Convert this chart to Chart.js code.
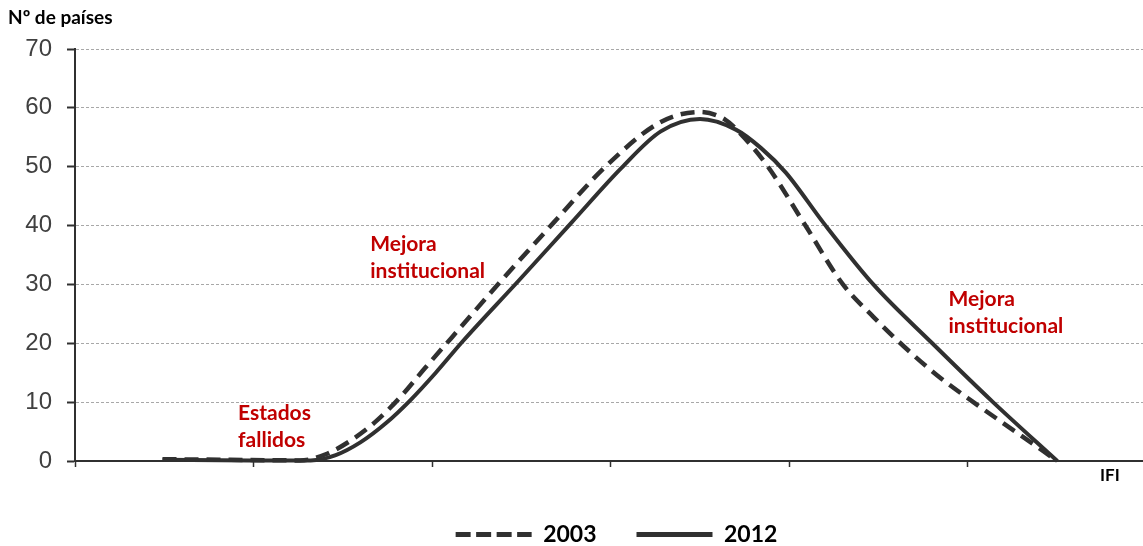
<!DOCTYPE html>
<html lang="es">
<head>
  <meta charset="UTF-8" />
  <title>Nº de países según IFI</title>
  <script src="https://cdn.jsdelivr.net/npm/chart.js"></script>
  <style>
    html, body {
      margin: 0;
      padding: 0;
      background: #fff;
    }
    #wrap {
      width: 1143px;
      height: 546px;
    }
  </style>
</head>
<body>
  <div id="wrap"><canvas id="chart" width="1143" height="546"></canvas></div>

  <script>
    // Valores (eje IFI sin escala: una unidad = un intervalo entre marcas)
    const ifi2003 = [0.49, 0.87, 1.26, 1.40, 1.54, 1.68, 1.82, 1.96, 2.11, 2.38, 2.68, 2.97, 3.28, 3.50, 3.64, 3.76, 3.88, 4.09, 4.30, 4.47, 4.64, 4.83, 5.03, 5.27, 5.50];
    const paises2003 = [0.3, 0.2, 0.1, 1.1, 3.4, 6.6, 10.8, 15.8, 21, 30.4, 40.5, 50, 57.6, 59.3, 58.0, 54.5, 50, 40, 30, 24.5, 19.5, 14.5, 10, 4.9, 0];

    const ifi2012 = [0.49, 0.98, 1.32, 1.46, 1.60, 1.74, 1.88, 2.02, 2.17, 2.48, 2.78, 3.06, 3.28, 3.50, 3.70, 3.84, 3.98, 4.19, 4.47, 4.80, 5.14, 5.50];
    const paises2012 = [0.2, 0.1, 0.1, 1.0, 3.2, 6.4, 10.4, 15.0, 20.3, 30.5, 40.5, 49.8, 56.0, 58.1, 56.3, 53.2, 49, 40.5, 30, 20, 10, 0];

    const yTicks = [0, 10, 20, 30, 40, 50, 60, 70];
    const xTicks = [0, 1, 2, 3, 4, 5];

    // Textos en rojo: [líneas, ifi, nº de países]
    const notas = [
      { lines: ['Estados', 'fallidos'], x: 0.913, y: 8.1 },
      { lines: ['Mejora', 'institucional'], x: 1.653, y: 36.9 },
      { lines: ['Mejora', 'institucional'], x: 4.891, y: 27.5 }
    ];

    const toPoints = (xs, ys) => xs.map((x, i) => ({ x: x, y: ys[i] }));

    const ink = '#303030';

    const textos = {
      id: 'textos',
      afterLayout(chart) {
        // bajar y desplazar la leyenda como en el original
        const lg = chart.legend;
        lg.top += 10; lg.bottom += 10;
        lg.left += 45; lg.right += 45;
      },
      afterDraw(chart) {
        const { ctx, chartArea, scales } = chart;
        ctx.save();
        ctx.textBaseline = 'middle';
        ctx.textAlign = 'left';

        ctx.fillStyle = '#000';
        ctx.font = 'bold 19px Lato';
        ctx.fillText('Nº de países', chartArea.left - 67, chartArea.top - 31);

        ctx.font = 'bold 17px Lato';
        ctx.fillText('IFI', chartArea.right - 43, chartArea.bottom + 15);

        ctx.fillStyle = '#c00000';
        ctx.font = 'bold 21px Lato';
        notas.forEach(n => {
          const px = scales.x.getPixelForValue(n.x);
          const py = scales.y.getPixelForValue(n.y);
          n.lines.forEach((t, i) => ctx.fillText(t, px, py + i * 27));
        });
        ctx.restore();
      }
    };

    const ctx = document.getElementById('chart').getContext('2d');
    const chart = new Chart(ctx, {
      type: 'line',
      data: {
        datasets: [
          {
            label: '2003',
            data: toPoints(ifi2003, paises2003),
            borderColor: ink,
            backgroundColor: ink,
            borderWidth: 4.5,
            borderDash: [14, 8],
            pointRadius: 0,
            pointStyle: 'line',
            cubicInterpolationMode: 'monotone',
            clip: false
          },
          {
            label: '2012',
            data: toPoints(ifi2012, paises2012),
            borderColor: ink,
            backgroundColor: ink,
            borderWidth: 4,
            pointRadius: 0,
            pointStyle: 'line',
            cubicInterpolationMode: 'monotone',
            clip: false
          }
        ]
      },
      options: {
        responsive: false,
        animation: false,
        layout: { padding: { top: 49, left: 0, right: 0, bottom: 0 } },
        plugins: {
          tooltip: { enabled: false },
          legend: {
            position: 'bottom',
            labels: {
              usePointStyle: true,
              pointStyleWidth: 76,
              padding: 40,
              color: '#000',
              font: { family: 'Lato', size: 23, weight: 'bold' },
              generateLabels: c => Chart.defaults.plugins.legend.labels.generateLabels(c).map(l => {
                l.lineDash = c.data.datasets[l.datasetIndex].borderDash ? [15, 5.5] : [];
                l.lineWidth = 5;
                l.strokeStyle = ink;
                return l;
              })
            }
          }
        },
        scales: {
          x: {
            type: 'linear',
            min: 0,
            max: 5.98,
            afterBuildTicks: s => { s.ticks = xTicks.map(v => ({ value: v })); },
            afterFit: s => { s.height = 12; },
            ticks: { display: false },
            grid: {
              drawOnChartArea: false,
              drawTicks: true,
              tickLength: 6,
              tickColor: ink,
              tickWidth: 1.5
            },
            border: { color: ink, width: 2 }
          },
          y: {
            min: 0,
            max: 70,
            afterBuildTicks: s => { s.ticks = yTicks.map(v => ({ value: v })); },
            afterFit: s => { s.width = 75; },
            ticks: {
              padding: 15,
              color: '#404040',
              font: { family: 'Liberation Sans', size: 24 }
            },
            grid: {
              color: c => (c.tick && c.tick.value === 0 ? 'rgba(0,0,0,0)' : '#a8a8a8'),
              lineWidth: 1,
              tickLength: 8,
              tickColor: ink,
              tickWidth: 2
            },
            border: { color: ink, width: 2, dash: [3, 2] }
          }
        }
      },
      plugins: [textos]
    });
  </script>
</body>
</html>
